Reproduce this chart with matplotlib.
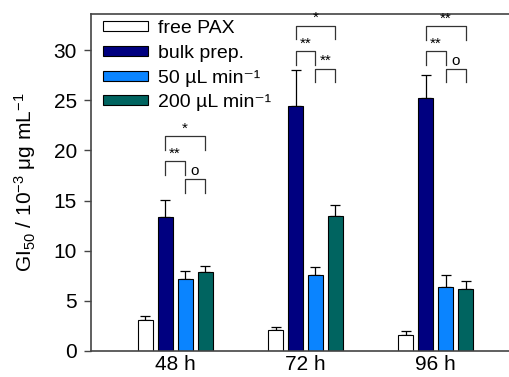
import numpy as np
import matplotlib
matplotlib.use("Agg")
import matplotlib.pyplot as plt

plt.rcParams['font.family'] = ['Liberation Sans', 'DejaVu Sans']
plt.rcParams['mathtext.fontset'] = 'custom'
plt.rcParams['mathtext.rm'] = 'Liberation Sans'
plt.rcParams['mathtext.it'] = 'Liberation Sans'

# data
groups = ['48 h', '72 h', '96 h']
series = ['free PAX', 'bulk prep.', '50 µL min⁻¹', '200 µL min⁻¹']
free_pax = [3.05, 2.1, 1.55]
free_err = [0.42, 0.33, 0.4]
bulk = [13.35, 24.45, 25.2]
bulk_err = [1.72, 3.55, 2.3]
flow50 = [7.15, 7.55, 6.42]
flow50_err = [0.83, 0.8, 1.2]
flow200 = [7.85, 13.45, 6.22]
flow200_err = [0.63, 1.1, 0.8]
colors = ['white', '#000080', '#0A84FF', '#006460']

# significance brackets: (group, left bar, right bar, top, label)
brackets = [
    (0, 1, 3, 21.45, '*'), (0, 1, 2, 18.95, '**'), (0, 2, 3, 17.15, 'o'),
    (1, 1, 3, 32.45, '*'), (1, 1, 2, 29.9, '**'), (1, 2, 3, 28.15, '**'),
    (2, 1, 3, 32.4, '**'), (2, 1, 2, 29.9, '**'), (2, 2, 3, 28.15, 'o'),
]

fig = plt.figure(figsize=(5.09, 3.77), dpi=100)
ax = fig.add_axes([91/509, 1 - 351/377, 1 - 91/509 + 0.01, (351 - 14)/377])

x = np.arange(len(groups))
pitch = 0.153
width = 0.115
vals = [free_pax, bulk, flow50, flow200]
errs = [free_err, bulk_err, flow50_err, flow200_err]
for i in range(4):
    pos = x + (i - 1.5) * pitch
    ax.bar(pos, vals[i], width, color=colors[i], edgecolor='black', linewidth=0.8,
           label=series[i], zorder=2)
    ax.errorbar(pos, vals[i], yerr=[np.zeros(3), errs[i]], fmt='none', ecolor='black',
                elinewidth=0.9, capsize=3.3, capthick=0.9, zorder=1)

for g, a, b, top, lab in brackets:
    xa = g + (a - 1.5) * pitch
    xb = g + (b - 1.5) * pitch
    ax.plot([xa, xa, xb, xb], [top - 1.37, top, top, top - 1.37], color='#333333', lw=0.9)
    ax.text((xa + xb) / 2, top + 0.05, lab, ha='center', va='bottom', fontsize=11)

ax.set_xlim(-0.645, 2.6)
ax.set_ylim(0, 33.6)
ax.set_xticks(x)
ax.set_xticklabels(groups, fontsize=15)
ax.tick_params(axis='x', length=0, pad=3)
ax.set_yticks(np.arange(0, 31, 5))
ax.tick_params(axis='y', labelsize=15, length=5, width=1, color='#444444', pad=5)
ax.spines['right'].set_visible(False)
for s in ['left', 'top', 'bottom']:
    ax.spines[s].set_color('#444444')
    ax.spines[s].set_linewidth(1.2)
ax.set_ylabel(r'GI$_{50}$ / 10$^{-3}$ $\mu$g mL$^{-1}$', fontsize=15)
ax.yaxis.set_label_coords(-0.125, 0.5)

ax.legend(loc='upper left', frameon=False, fontsize=14, handlelength=2.3, handleheight=0.4,
          labelspacing=0.4, handletextpad=0.55, borderpad=0, borderaxespad=0,
          bbox_to_anchor=(12/423, 1 - 6/337))

fig.savefig('out.png', dpi=100)
